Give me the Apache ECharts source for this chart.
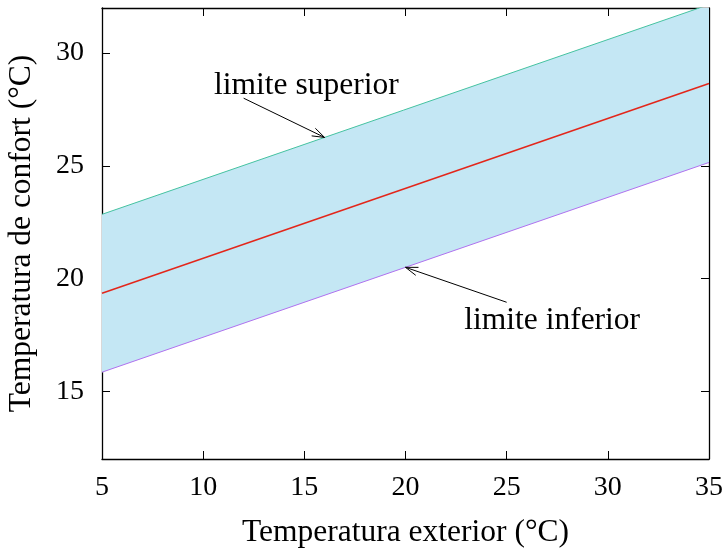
<!DOCTYPE html>
<html>
<head>
<meta charset="utf-8">
<script src="https://cdn.jsdelivr.net/npm/echarts@6/dist/echarts.min.js"></script>
<style>
  html, body { margin: 0; padding: 0; background: #fff; }
  #chart { width: 724px; height: 549px; }
</style>
</head>
<body>
<div id="chart"></div>
<script>
// Outdoor temperature (°C) at the two ends of the range
const exterior = [5, 35];
// Neutral comfort temperature and the acceptability band around it
const comfort = [19.35, 28.65];
const upperLimit = [22.85, 32.15];
const lowerLimit = [15.85, 25.15];

const xTicks = [5, 10, 15, 20, 25, 30, 35];
const yTicks = [15, 20, 25, 30];

// Arrow annotations: tail, head (on the limit line) and the label
const noteLabels = ['limite superior', 'limite inferior'];
const noteText = [[15.1, 28.55], [27.25, 18.15]];
const arrowTails = [[12, 28], [25, 18.95]];
const arrowHeads = [[16, 26.26], [20, 20.5]];

const FONT = '"Liberation Serif", "DejaVu Serif", serif';
const FS = 28;     // tick labels
const FS_T = 31.5; // titles and notes

const pairs = (xs, ys) => xs.map((x, i) => [x, ys[i]]);

const chart = echarts.init(document.getElementById('chart'), null, { renderer: 'canvas' });

const tickStyle = { show: true, inside: true, length: 8, lineStyle: { color: '#000', width: 1 } };
const lineStyle = { show: true, onZero: false, lineStyle: { color: '#000', width: 1.3 } };

// Filled band between the lower and upper limits
function renderBand(params, api) {
  const top = exterior.map((x, i) => api.coord([x, upperLimit[i]]));
  const bottom = exterior.map((x, i) => api.coord([x, lowerLimit[i]])).reverse();
  return {
    type: 'polygon',
    shape: { points: top.concat(bottom) },
    style: { fill: '#c4e7f4', stroke: null }
  };
}

function renderNote(params, api) {
  const i = params.dataIndex;
  const p0 = api.coord(arrowTails[i]);
  const p1 = api.coord(arrowHeads[i]);
  const t = api.coord(noteText[i]);
  const ang = Math.atan2(p1[1] - p0[1], p1[0] - p0[0]);
  const L = 13, spread = 0.33;
  const h1 = [p1[0] - L * Math.cos(ang - spread), p1[1] - L * Math.sin(ang - spread)];
  const h2 = [p1[0] - L * Math.cos(ang + spread), p1[1] - L * Math.sin(ang + spread)];
  return {
    type: 'group',
    children: [
      { type: 'line', shape: { x1: p0[0], y1: p0[1], x2: p1[0], y2: p1[1] },
        style: { stroke: '#000', lineWidth: 1 } },
      { type: 'polyline', shape: { points: [h1, p1, h2] },
        style: { stroke: '#000', lineWidth: 1, fill: null } },
      { type: 'text', x: t[0], y: t[1],
        style: { text: noteLabels[i], fill: '#000', font: FS_T + 'px ' + FONT,
                 align: 'center', verticalAlign: 'middle' } }
    ]
  };
}

chart.setOption({
  animation: false,
  backgroundColor: '#fff',
  textStyle: { fontFamily: FONT },
  grid: { left: 102, right: 15, top: 8, bottom: 90, containLabel: false, outerBoundsMode: 'none' },
  xAxis: [
    {
      type: 'value', min: 5, max: 35, interval: 5, position: 'bottom',
      name: 'Temperatura exterior (°C)', nameLocation: 'middle', nameGap: 58,
      nameTextStyle: { fontFamily: FONT, fontSize: FS_T, color: '#000' },
      axisLine: lineStyle, axisTick: tickStyle,
      axisLabel: { fontFamily: FONT, fontSize: FS, color: '#000', margin: 15,
                   customValues: xTicks },
      splitLine: { show: false }
    },
    {
      type: 'value', min: 5, max: 35, interval: 5, position: 'top',
      axisLine: lineStyle, axisTick: tickStyle,
      axisLabel: { show: false }, splitLine: { show: false }
    }
  ],
  yAxis: [
    {
      type: 'value', min: 12, max: 32, position: 'left',
      name: 'Temperatura de confort (°C)', nameLocation: 'middle', nameGap: 64,
      nameTextStyle: { fontFamily: FONT, fontSize: FS_T, color: '#000' },
      axisLine: lineStyle,
      axisTick: Object.assign({}, tickStyle, { customValues: yTicks }),
      axisLabel: { fontFamily: FONT, fontSize: FS, color: '#000', margin: 18,
                   customValues: yTicks },
      splitLine: { show: false }
    },
    {
      type: 'value', min: 12, max: 32, position: 'right',
      axisLine: lineStyle,
      axisTick: Object.assign({}, tickStyle, { customValues: yTicks }),
      axisLabel: { show: false }, splitLine: { show: false }
    }
  ],
  series: [
    {
      name: 'band', type: 'custom', clip: true,
      data: pairs(exterior, lowerLimit),
      renderItem: (params, api) => params.dataIndex === 0 ? renderBand(params, api) : null,
      z: 1
    },
    {
      name: 'lower', type: 'line', symbol: 'none',
      data: pairs(exterior, lowerLimit),
      lineStyle: { color: '#b072ef', width: 1 }, z: 3
    },
    {
      name: 'upper', type: 'line', symbol: 'none',
      data: pairs(exterior, upperLimit),
      lineStyle: { color: '#45c2a0', width: 1 }, z: 3
    },
    {
      name: 'comfort', type: 'line', symbol: 'none',
      data: pairs(exterior, comfort),
      lineStyle: { color: '#e3261a', width: 1.5 }, z: 4
    },
    {
      name: 'notes', type: 'custom', clip: false,
      data: arrowTails.map((p, i) => [p[0], p[1], arrowHeads[i][0], arrowHeads[i][1]]),
      renderItem: renderNote, z: 5
    }
  ]
});
</script>
</body>
</html>
